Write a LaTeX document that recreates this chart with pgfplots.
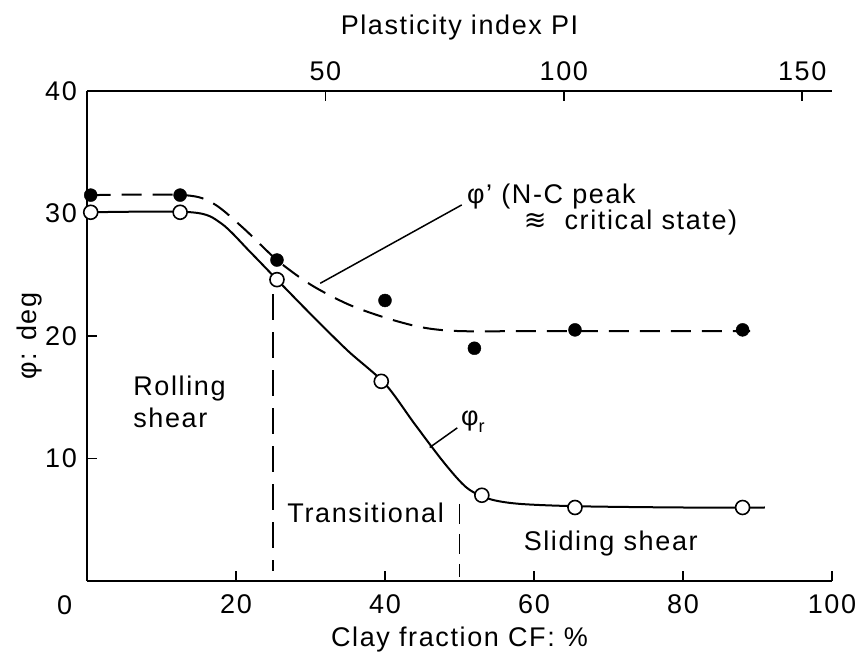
\documentclass[border=0pt]{standalone}
\usepackage{pgfplots}
\pgfplotsset{compat=1.18}
\usepackage{fontspec}
\setmainfont{Liberation Sans}[LetterSpace=6]
\newfontfamily\dejavu{DejaVu Sans}
\newcommand\fs{\fontsize{27}{32}\selectfont}
\begin{document}
\fs
\begin{tikzpicture}
\useasboundingbox (-87pt,-74pt) rectangle (775pt,581pt);
\begin{axis}[
  scale only axis, width=745pt, height=490pt,
  xmin=0, xmax=100, ymin=0, ymax=40,
  axis lines*=left,
  axis line style={line width=1.8pt},
  tick style={line width=1.5pt, black},
  tick align=inside, major tick length=10pt,
  xtick={20,40,60,80,100}, ytick={10,20,30,40},
  /pgf/number format/assume math mode=true,
  ticklabel style={font=\fs},
  xticklabel style={yshift=-4pt},
  yticklabel style={xshift=-1pt},
  xlabel={Clay fraction CF: \%},
  ylabel={φ: deg},
  xlabel style={at={(axis description cs:0.5,-0.12)}, anchor=center, font=\fs},
  ylabel style={at={(axis description cs:-0.077,0.5)}, anchor=center, font=\fs},
  clip=false,
]
% phi_r curve
\addplot[line width=2pt, smooth, tension=0.5] coordinates {
 (0.5,30.1) (14,30.1) (18,29.2) (22,26.8) (25.5,24.6) (30,21.8) (35,18.8) (40,16.1)
 (44,12.8) (48,9.6) (51,7.6) (54,6.7) (58,6.3) (66,6.1) (80,6.0) (91,6.0)};
% phi' curve
\addplot[line width=2pt, dash pattern=on 20pt off 11pt, smooth, tension=0.5] coordinates {
 (0.5,31.5) (13,31.5) (17,30.8) (21,28.8) (25.5,26.2) (30,24.2) (35,22.6) (40,21.5)
 (45,20.7) (50,20.4) (60,20.4) (75,20.4) (89,20.4)};
% boundaries
\addplot[line width=1.8pt, dash pattern=on 26pt off 12pt] coordinates {(25,23.4) (25,0.8)};
\addplot[line width=1.8pt, dash pattern=on 20pt off 10pt] coordinates {(50,6.3) (50,0.3)};
% markers
\addplot[only marks, mark=*, mark size=6.5pt, mark options={fill=black, draw=black}] coordinates {
 (0.5,31.5) (12.5,31.5) (25.5,26.2) (40,22.9) (52,19.0) (65.5,20.5) (88,20.5)};
\addplot[only marks, mark=*, mark size=7pt, mark options={fill=white, draw=black, line width=1.6pt}] coordinates {
 (0.5,30.1) (12.5,30.1) (25.5,24.6) (39.5,16.3) (53,7.0) (65.5,6.0) (88,6.0)};
% annotations
\draw[line width=1.5pt] (axis cs:31.3,24.3) -- (axis cs:50.3,30.7);
\draw[line width=1.5pt] (axis cs:46.0,10.9) -- (axis cs:49.7,12.5);
\node[anchor=west, inner sep=0pt] at (axis cs:51.0,31.4) {φ’ (N-C peak};
\node[anchor=west, inner sep=0pt] at (axis cs:58.6,29.3) {{\dejavu ≋}\ \ critical state)};
\node[anchor=center, inner sep=0pt] at (axis cs:51.8,13.0) {φ\raisebox{-0.45ex}{\fontsize{18}{20}\selectfont r}};
\node[anchor=west, align=left, inner sep=0pt] at (axis cs:6.2,14.6) {Rolling\\shear};
\node[anchor=center, inner sep=0pt] at (axis cs:37.4,5.6) {Transitional};
\node[anchor=center, inner sep=0pt] at (axis cs:70.3,3.1) {Sliding shear};
\node[anchor=center, inner sep=0pt] at (axis cs:-3,-2) {0};
\end{axis}
\begin{axis}[
  scale only axis, width=745pt, height=490pt,
  xmin=0, xmax=100, ymin=0, ymax=40,
  axis x line*=top, axis y line=none,
  axis line style={line width=1.8pt},
  tick style={line width=1.5pt, black},
  tick align=inside, major tick length=10pt,
  xtick={32,64,96}, xticklabels={50,100,150},
  ticklabel style={font=\fs},
  xticklabel style={yshift=1pt},
  xlabel={Plasticity index PI},
  xlabel style={at={(axis description cs:0.5,1.13)}, anchor=center, font=\fs},
]
\end{axis}
\end{tikzpicture}
\end{document}
